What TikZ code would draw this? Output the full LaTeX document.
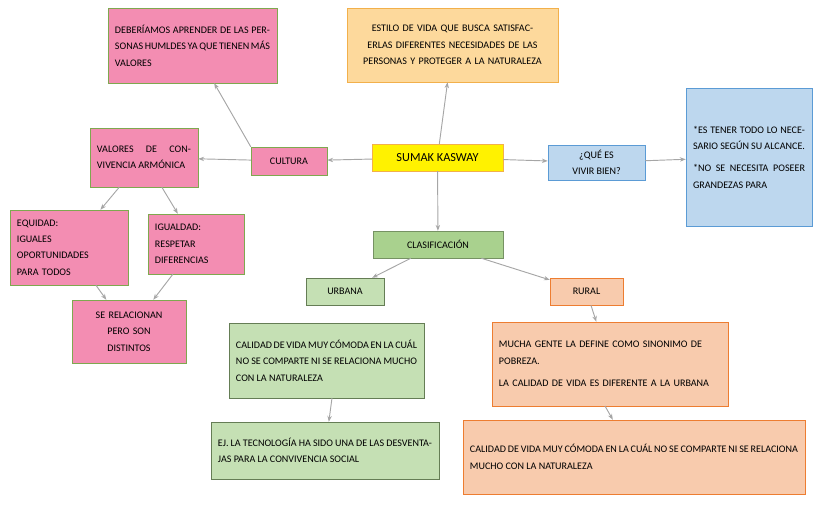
\documentclass[tikz,border=0pt]{standalone}
\usepackage{fontspec}
\setmainfont{Carlito}
\usetikzlibrary{arrows.meta}
\begin{document}
\begin{tikzpicture}[x=0.03cm,y=-0.03cm,
 bx/.style={draw,inner sep=3pt,font=\fontsize{8.6}{14}\selectfont,align=justify},
 pk/.style={bx,fill=pink1,draw=gb},
 ar/.style={draw=gray!70,line width=0.8pt,-{Stealth[length=5pt]}}]
\definecolor{pink1}{HTML}{F38DB2}\definecolor{gb}{HTML}{7EA84F}
\definecolor{or1}{HTML}{FDD99C}\definecolor{orb}{HTML}{F2B04B}
\definecolor{bl1}{HTML}{BDD7EE}\definecolor{blb}{HTML}{5B9BD5}
\definecolor{gr1}{HTML}{A9D18E}\definecolor{gr2}{HTML}{C5E0B4}
\definecolor{sa1}{HTML}{F8CBAD}\definecolor{sab}{HTML}{ED7D31}
\useasboundingbox (0,0) rectangle (829,507);
\node[pk,minimum width=5.07cm,minimum height=2.25cm,text width=4.65cm] (tl) at (192.5,45.5) {DEBERÍAMOS APRENDER DE LAS PERSONAS HUMLDES YA QUE TIENEN MÁS VALORES};
\node[bx,fill=or1,draw=orb,align=center,minimum width=6.33cm,minimum height=2.22cm,text width=5.9cm] (to) at (452.5,45) {ESTILO DE VIDA QUE BUSCA SATISFACERLAS DIFERENTES NECESIDADES DE LAS PERSONAS Y PROTEGER A LA NATURALEZA};
\node[pk,minimum width=3.24cm,minimum height=1.77cm,text width=2.82cm] (val) at (144,157.5) {VALORES DE CONVIVENCIA ARMÓNICA};
\node[pk,minimum width=2.28cm,minimum height=0.84cm,align=center] (cul) at (289,161) {CULTURA};
\node[bx,fill=yellow,draw=orb,align=center,minimum width=3.93cm,minimum height=0.81cm,font=\fontsize{10.5}{13}\selectfont] (sk) at (437.5,157.5) {SUMAK KASWAY};
\node[bx,fill=bl1,draw=blb,align=center,minimum width=2.91cm,minimum height=1.05cm] (que) at (596.5,162.5) {¿QUÉ ES\\VIVIR BIEN?};
\node[bx,fill=bl1,draw=blb,minimum width=3.78cm,minimum height=4.14cm,text width=3.36cm] (rb) at (749,157) {*ES TENER TODO LO NECESARIO SEGÚN SU ALCANCE.\par\vspace{5pt}*NO SE NECESITA POSEER GRANDEZAS PARA};
\node[pk,minimum width=3.54cm,minimum height=2.25cm,text width=3.12cm,align=left] (eq) at (69,247.5) {EQUIDAD:\\IGUALES\\OPORTUNIDADES\\PARA TODOS};
\node[pk,minimum width=2.88cm,minimum height=1.8cm,text width=2.46cm,align=left] (ig) at (196,244) {IGUALDAD:\\RESPETAR\\DIFERENCIAS};
\node[bx,fill=gr1,draw=gr1!70!black,align=center,minimum width=3.9cm,minimum height=0.81cm] (cl) at (438,244.5) {CLASIFICACIÓN};
\node[bx,fill=gr2,draw=gr1!60!black,align=center,minimum width=2.34cm,minimum height=0.81cm] (ur) at (345,291.5) {URBANA};
\node[bx,fill=sa1,draw=sab,align=center,minimum width=2.19cm,minimum height=0.81cm] (ru) at (586.5,291.5) {RURAL};
\node[pk,minimum width=3.42cm,minimum height=1.89cm,text width=3.0cm,align=center] (se) at (129,331.5) {SE RELACIONAN\\PERO SON\\DISTINTOS};
\node[bx,fill=gr2,draw=gr1!60!black,minimum width=5.85cm,minimum height=2.25cm,text width=5.43cm] (ca) at (326.5,360.5) {CALIDAD DE VIDA MUY CÓMODA EN LA CUÁL NO SE COMPARTE NI SE RELACIONA MUCHO CON LA NATURALEZA};
\node[bx,fill=sa1,draw=sab,minimum width=7.08cm,minimum height=2.52cm,text width=6.66cm,align=left] (mu) at (610,364) {MUCHA GENTE LA DEFINE COMO SINONIMO DE POBREZA.\par\vspace{5pt}LA CALIDAD DE VIDA ES DIFERENTE A LA URBANA};
\node[bx,fill=gr2,draw=gr1!60!black,minimum width=6.84cm,minimum height=1.71cm,text width=6.42cm] (ej) at (325,450.5) {EJ. LA TECNOLOGÍA HA SIDO UNA DE LAS DESVENTAJAS PARA LA CONVIVENCIA SOCIAL};
\node[bx,fill=sa1,draw=sab,minimum width=10.26cm,minimum height=2.22cm,text width=9.84cm] (co) at (634,457) {CALIDAD DE VIDA MUY CÓMODA EN LA CUÁL NO SE COMPARTE NI SE RELACIONA MUCHO CON LA NATURALEZA};
\coordinate (c1) at (332,398);
\coordinate (m1) at (605,406);
\draw[ar] (sk) -- (cul);
\draw[ar] (cul.north west) -- (tl);
\draw[ar] (cul) -- (val);
\draw[ar] (sk) -- (to);
\draw[ar] (sk) -- (que);
\draw[ar] (que) -- (rb);
\draw[ar] (sk) -- (cl);
\draw[ar] (val) -- (eq);
\draw[ar] (val) -- (ig);
\draw[ar] (eq) -- (se);
\draw[ar] (ig) -- (se);
\draw[ar] (cl) -- (ur);
\draw[ar] (cl) -- (ru);
\draw[ar] (c1) -- (ej);
\draw[ar] (ru) -- (mu);
\draw[ar] (m1) -- (co);
\end{tikzpicture}
\end{document}
